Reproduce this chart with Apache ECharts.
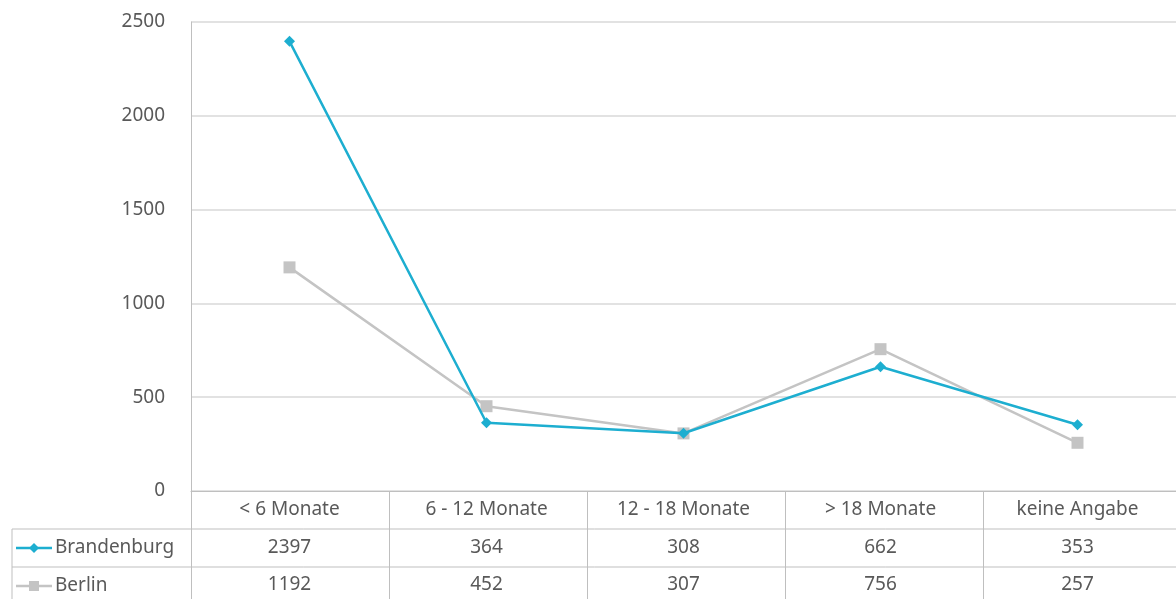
<!DOCTYPE html>
<html><head><meta charset="utf-8">
<script src="https://cdn.jsdelivr.net/npm/echarts@6/dist/echarts.min.js"></script>
<style>html,body{margin:0;padding:0;background:#fff}#c{width:1176px;height:599px}</style>
</head><body><div id="c"></div>
<script>
const categories = ['< 6 Monate', '6 - 12 Monate', '12 - 18 Monate', '> 18 Monate', 'keine Angabe'];
const brandenburg = [2397, 364, 308, 662, 353];
const berlin = [1192, 452, 307, 756, 257];
const seriesNames = ['Brandenburg', 'Berlin'];
const yTicks = [0, 500, 1000, 1500, 2000, 2500];

const FONT = 'Noto Sans';
const TXT = '#595959';
const LINE = '#BFBFBF';
const BLUE = '#1DAED0';
const GRAY = '#C4C4C4';

const G = {left: 191, top: 22, width: 990, height: 469};
const rowH = 38;
const tableLeft = 12;

const chart = echarts.init(document.getElementById('c'), null, {renderer: 'canvas'});

function tableGraphics() {
  const els = [];
  const bottom = G.top + G.height;
  const right = G.left + G.width;
  const colW = G.width / categories.length;
  [1, 2].forEach(i => {
    els.push({type: 'line', shape: {x1: tableLeft, y1: bottom + rowH * i, x2: right, y2: bottom + rowH * i},
      style: {stroke: LINE, lineWidth: 1}, silent: true});
  });
  els.push({type: 'line', shape: {x1: tableLeft, y1: bottom + rowH, x2: tableLeft, y2: 599},
    style: {stroke: LINE, lineWidth: 1}});
  for (let i = 0; i <= categories.length; i++) {
    const x = Math.round(G.left + colW * i) + 0.5;
    els.push({type: 'line', shape: {x1: x, y1: bottom, x2: x, y2: 599},
      style: {stroke: LINE, lineWidth: 1}});
  }
  const keys = [{name: seriesNames[0], color: BLUE, symbol: 'diamond', lw: 2.5},
                {name: seriesNames[1], color: GRAY, symbol: 'rect', lw: 2.5}];
  keys.forEach((k, i) => {
    const cy = bottom + rowH * (i + 1) + rowH / 2;
    els.push({type: 'line', shape: {x1: 16, y1: cy, x2: 52, y2: cy}, style: {stroke: k.color, lineWidth: k.lw}});
    if (k.symbol === 'diamond') {
      els.push({type: 'polygon', shape: {points: [[34, cy - 5], [39, cy], [34, cy + 5], [29, cy]]}, style: {fill: k.color}});
    } else {
      els.push({type: 'rect', shape: {x: 29, y: cy - 5, width: 10, height: 10}, style: {fill: k.color}});
    }
    els.push({type: 'text', x: 55, y: cy, style: {text: k.name, fill: TXT, font: '19px "' + FONT + '"', verticalAlign: 'middle', align: 'left'}});
  });
  return els;
}

chart.setOption({
  animation: false,
  backgroundColor: '#fff',
  grid: {left: G.left, top: G.top, width: G.width, height: G.height, containLabel: false},
  xAxis: [
    {type: 'category', data: categories, boundaryGap: true,
     axisLine: {show: true, lineStyle: {color: LINE, width: 1}}, axisTick: {show: false},
     axisLabel: {color: TXT, fontFamily: FONT, fontSize: 19, margin: 9, interval: 0}},
    {type: 'category', data: brandenburg.map(String), position: 'bottom', offset: rowH, gridIndex: 0,
     axisLine: {show: false}, axisTick: {show: false},
     axisLabel: {color: TXT, fontFamily: FONT, fontSize: 19, margin: 9, interval: 0}},
    {type: 'category', data: berlin.map(String), position: 'bottom', offset: rowH * 2, gridIndex: 0,
     axisLine: {show: false}, axisTick: {show: false},
     axisLabel: {color: TXT, fontFamily: FONT, fontSize: 19, margin: 8, interval: 0}}
  ],
  yAxis: {type: 'value', min: yTicks[0], max: yTicks[yTicks.length - 1], interval: yTicks[1] - yTicks[0],
    axisLine: {show: true, lineStyle: {color: LINE}}, axisTick: {show: false},
    axisLabel: {color: TXT, fontFamily: FONT, fontSize: 19, margin: 26, formatter: v => String(v)},
    splitLine: {show: true, lineStyle: {color: '#D9D9D9', width: 1.5}}},
  series: [
    {name: seriesNames[0], type: 'line', data: brandenburg, xAxisIndex: 0, z: 3,
     symbol: 'diamond', symbolSize: 11, lineStyle: {color: BLUE, width: 2.5}, itemStyle: {color: BLUE}},
    {name: seriesNames[1], type: 'line', data: berlin, xAxisIndex: 0, z: 2,
     symbol: 'rect', symbolSize: 12, lineStyle: {color: GRAY, width: 2.5}, itemStyle: {color: GRAY}}
  ],
  graphic: tableGraphics()
});
</script></body></html>
